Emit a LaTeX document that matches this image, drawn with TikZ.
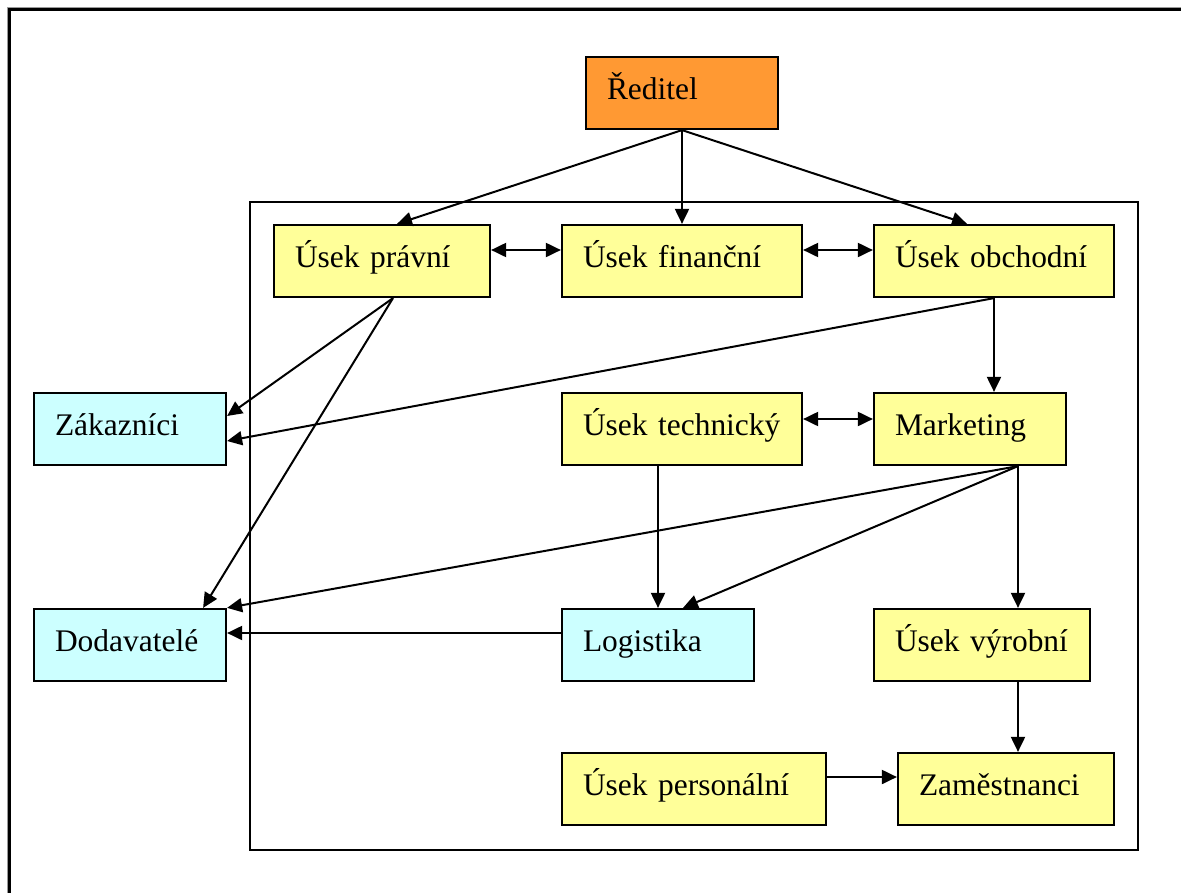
\documentclass[tikz,border=0pt]{standalone}
\usepackage{fontspec}
\setmainfont{Liberation Serif}
\usetikzlibrary{arrows.meta,calc}
\definecolor{boxyellow}{HTML}{FFFF99}
\definecolor{boxcyan}{HTML}{CCFFFF}
\definecolor{boxorange}{HTML}{FF9933}
\definecolor{frameshade}{HTML}{9A9A9A}
\begin{document}
\begin{tikzpicture}[x=0.02cm,y=-0.02cm,
  box/.style={draw, line width=0.045cm, minimum height=1.44cm, inner xsep=0.42cm,
    inner ysep=0pt, text height=0.5cm, text depth=0.26cm, align=left,
    font=\fontsize{17.9}{21}\selectfont},
  yel/.style={box, fill=boxyellow},
  cya/.style={box, fill=boxcyan},
  tip/.tip={Triangle[length=0.3cm,width=0.28cm]},
  link/.style={line width=0.04cm, -tip},
  both/.style={line width=0.04cm, tip-tip}]
\useasboundingbox (0,0) rectangle (1181,893);
\clip (0,0) rectangle (1181,893);
\fill[white] (0,0) rectangle (1181,893);

% page frame (runs off the right and bottom edges)
\draw[frameshade, line width=0.025cm] (7.2,7.2) rectangle (1250,960);
\draw[line width=0.05cm] (9.5,9.5) rectangle (1250,960);

% frame around the departments
\draw[line width=0.045cm] (250,202) rectangle (1138,850);

% boxes
\node[box, fill=boxorange, text width=3.0cm] (reditel) at (682,93) {Ředitel};
\node[yel, text width=3.48cm] (pravni) at (382,261) {Úsek právní};
\node[yel, text width=3.96cm] (financni) at (682,261) {Úsek finanční};
\node[yel, text width=3.96cm] (obchodni) at (994,261) {Úsek obchodní};
\node[cya, text width=3.0cm] (zakaznici) at (130,429) {Zákazníci};
\node[yel, text width=3.96cm] (technicky) at (682,429) {Úsek technický};
\node[yel, text width=3.0cm] (marketing) at (970,429) {Marketing};
\node[cya, text width=3.0cm] (dodavatele) at (130,645) {Dodavatelé};
\node[cya, text width=3.0cm] (logistika) at (658,645) {Logistika};
\node[yel, text width=3.48cm] (vyrobni) at (982,645) {Úsek výrobní};
\node[yel, text width=4.44cm] (personalni) at (694,789) {Úsek personální};
\node[yel, text width=3.48cm] (zamestnanci) at (1006,789) {Zaměstnanci};

% connection points on box edges
\coordinate (pravniOut) at ($(pravni.south)+(11,0)$);
\coordinate (marketingOut) at ($(marketing.south)+(48,0)$);
\coordinate (vyrobniOut) at ($(vyrobni.south)+(36,0)$);

% connectors
\draw[link] (reditel.south) -- ($(pravni.north)+(15,0)$);
\draw[link] (reditel.south) -- (financni.north);
\draw[link] (reditel.south) -- ($(obchodni.north)+(-27,0)$);

\draw[both] ($(pravni.east)+(0,-11)$) -- ($(financni.west)+(0,-11)$);
\draw[both] ($(financni.east)+(0,-11)$) -- ($(obchodni.west)+(0,-11)$);

\draw[link] (pravniOut) -- ($(zakaznici.east)+(0,-13)$);
\draw[link] (pravniOut) -- ($(dodavatele.north east)+(-24,0)$);
\draw[link] (obchodni.south) -- ($(zakaznici.east)+(0,12)$);
\draw[link] (obchodni.south) -- (obchodni.south |- marketing.north);

\draw[both] ($(technicky.east)+(0,-10)$) -- ($(marketing.west)+(0,-10)$);

\draw[link] (marketingOut) -- (dodavatele.north east);
\draw[link] (marketingOut) -- ($(logistika.north)+(25,0)$);
\draw[link] (marketingOut) -- (marketingOut |- vyrobni.north);
\draw[link] (logistika.north |- technicky.south) -- (logistika.north);

\draw[link] ($(logistika.west)+(0,-12)$) -- ($(dodavatele.east)+(0,-12)$);
\draw[link] (vyrobniOut) -- (vyrobniOut |- zamestnanci.north);
\draw[link] ($(personalni.east)+(0,-12)$) -- ($(zamestnanci.west)+(0,-12)$);
\end{tikzpicture}
\end{document}
